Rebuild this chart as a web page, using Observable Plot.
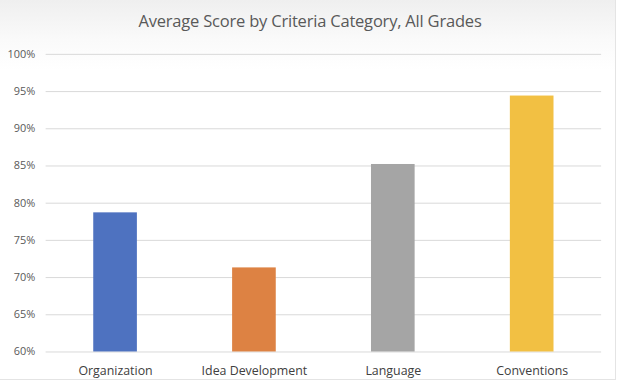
<!DOCTYPE html>
<html>
<head>
<meta charset="utf-8">
<script src="https://cdn.jsdelivr.net/npm/d3@7"></script>
<script src="https://cdn.jsdelivr.net/npm/@observablehq/plot@0.6"></script>
<style>
  html, body { margin: 0; padding: 0; }
  body { width: 620px; height: 382px; overflow: hidden; background: #fff; font-family: "Open Sans", "Noto Sans", sans-serif; }
  #wrap { position: relative; width: 615px; height: 379px; border-right: 1px solid #e4e4e4; border-bottom: 1px solid #e4e4e4;
          background: linear-gradient(to bottom, #efefef 0px, #fafafa 40px, #ffffff 70px, #ffffff 100%); }
  #title { height: 40px; line-height: 42px; text-align: center; font-size: 16.5px; color: #595959; letter-spacing: -0.2px; padding-left: 5px; }
  #chart svg { display: block; background: transparent; }
</style>
</head>
<body>
<div id="wrap">
  <div id="title">Average Score by Criteria Category, All Grades</div>
  <div id="chart"></div>
</div>
<script>
const categories = ["Organization", "Idea Development", "Language", "Conventions"];
const scores = [0.787, 0.713, 0.852, 0.944];
const colors = ["#4e72c0", "#dd8243", "#a5a5a5", "#f2c043"];
const yTicks = [0.60, 0.65, 0.70, 0.75, 0.80, 0.85, 0.90, 0.95, 1.00];

const data = categories.map((c, i) => ({category: c, score: scores[i], color: colors[i]}));

const chart = Plot.plot({
  width: 620,
  height: 339,
  marginTop: 14,
  marginBottom: 25,
  marginLeft: 46,
  marginRight: 14,
  style: {fontFamily: "'Open Sans', 'Noto Sans', sans-serif", fontSize: "11px", color: "#595959", background: "transparent", overflow: "visible"},
  x: {domain: categories, paddingInner: 0.686, paddingOuter: 0.343, label: null},
  y: {domain: [0.6, 1.0], ticks: yTicks, label: null},
  marks: [
    Plot.gridY(yTicks, {stroke: "#d9d9d9", strokeOpacity: 1, strokeWidth: 1}),
    Plot.barY(data, {x: "category", y1: 0.6, y2: "score", fill: "color"}),
    Plot.axisX({tickSize: 0, tickPadding: 14, fontSize: 12.5, fill: "#404040"}),
    Plot.axisY(yTicks, {tickSize: 0, tickPadding: 11, tickFormat: d => Math.round(d * 100) + "%", fontSize: 11, fill: "#595959"})
  ]
});
document.getElementById("chart").appendChild(chart);
</script>
</body>
</html>
